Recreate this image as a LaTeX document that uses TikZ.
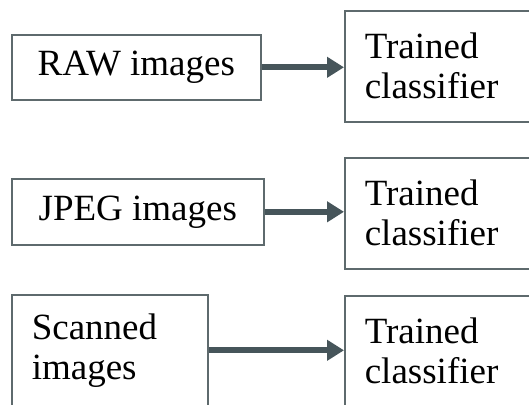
\documentclass[tikz,border=0pt]{standalone}
\usepackage{fontspec}
\setmainfont{Liberation Serif}
\usetikzlibrary{arrows.meta}
\definecolor{boxline}{HTML}{5E6A6D}
\definecolor{arrowc}{HTML}{46555A}
\begin{document}
\begin{tikzpicture}[x=1pt,y=-1pt,
  box/.style={draw=boxline, line width=1.6pt, rectangle, inner sep=0pt, anchor=north west,
    font=\fontsize{37}{40}\selectfont},
  tallbox/.style={box, minimum height=111pt, align=left, inner xsep=20pt},
  conn/.style={draw=arrowc, line width=6pt, -{Triangle[length=17pt,width=20pt]}}]
\useasboundingbox (0,0) rectangle (529,404);
\clip (0,0) rectangle (529,404);
\node[box, minimum width=249pt, minimum height=65pt] (raw) at (11,34) {RAW images};
\node[tallbox, text width=200pt] (tc1) at (344,10) {Trained\\classifier};
\node[box, minimum width=252pt, minimum height=66pt] (jpeg) at (11,178) {JPEG images};
\node[tallbox, text width=200pt] (tc2) at (344,157) {Trained\\classifier};
\node[tallbox, text width=156pt] (scan) at (11,294) {Scanned\\images};
\node[tallbox, text width=200pt] (tc3) at (344,295) {Trained\\classifier};
\draw[conn] (raw.east) -- (raw.east -| tc1.west);
\draw[conn] (jpeg.east) -- (jpeg.east -| tc2.west);
\draw[conn] (scan.east) -- (scan.east -| tc3.west);
\end{tikzpicture}
\end{document}
